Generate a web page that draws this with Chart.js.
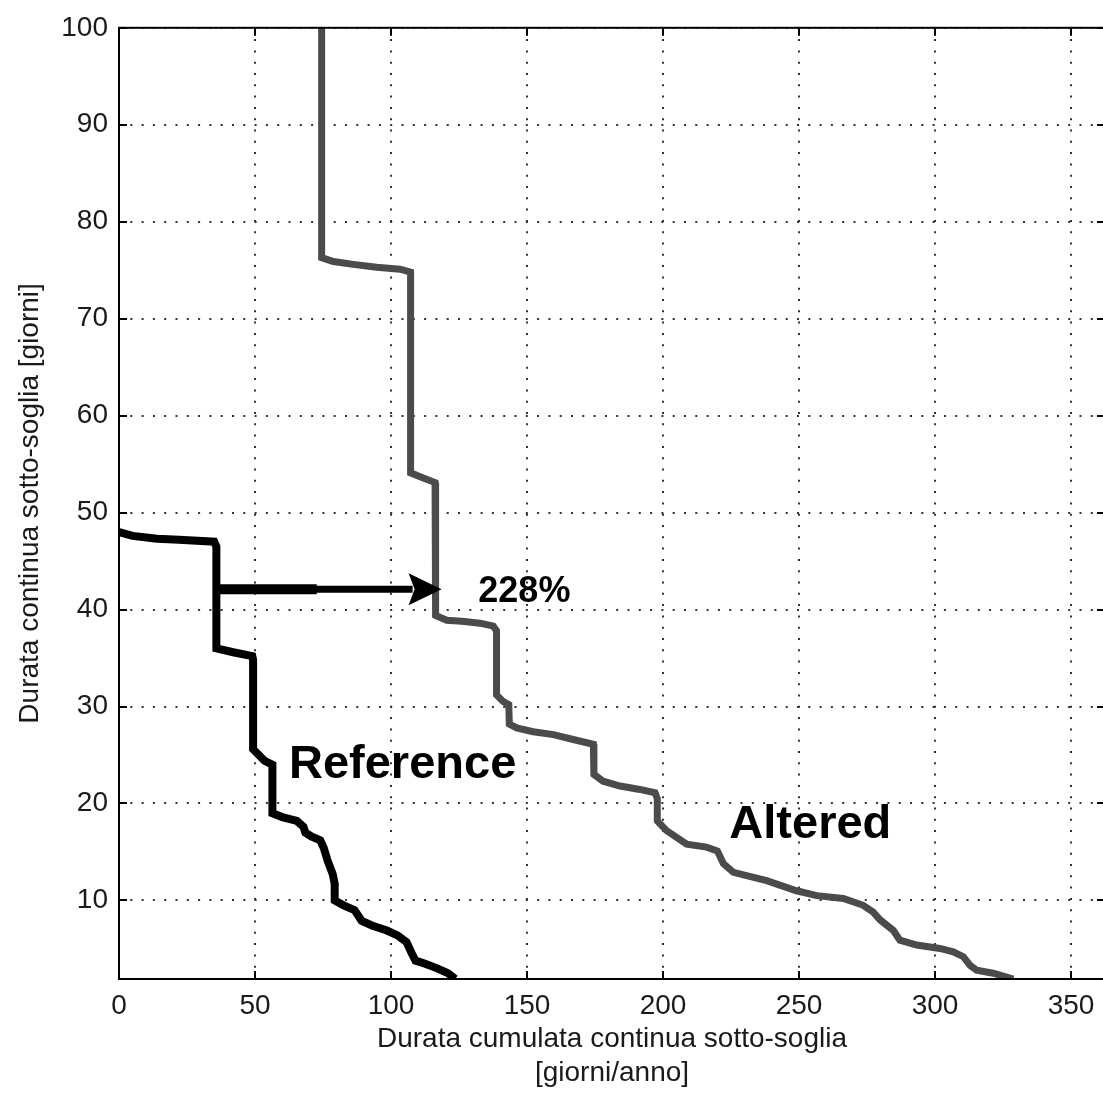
<!DOCTYPE html>
<html>
<head>
<meta charset="utf-8">
<script src="https://cdn.jsdelivr.net/npm/chart.js@4/dist/chart.umd.min.js"></script>
<style>
  html, body { margin: 0; padding: 0; background: #fff; overflow: hidden; }
  #wrap { width: 1110px; height: 1097px; }
</style>
</head>
<body>
<div id="wrap"><canvas id="c" width="1110" height="1097"></canvas></div>
<script>
// Cumulative duration [days/year] vs. continuous under-threshold duration [days]
const refDays = [0, 5, 14, 22, 35, 35.8, 35.8, 42, 49, 49.3, 49.3, 53.5, 56.4, 56.4, 60, 65.4, 67.8, 68.5, 70.7, 74, 75.3, 76.7, 78.6, 79.3, 79.3, 82.6, 86.6, 89.2, 93.2, 98.5, 102.4, 105.7, 107.7, 109, 112.3, 117, 120.9, 123.6];
const refDur  = [48, 47.6, 47.3, 47.2, 47.0, 46.5, 36.0, 35.6, 35.2, 34.8, 25.6, 24.4, 24.0, 19.0, 18.6, 18.2, 17.6, 17.0, 16.6, 16.2, 15.4, 14.1, 12.7, 11.7, 10.0, 9.5, 9.0, 7.9, 7.4, 6.9, 6.4, 5.7, 4.5, 3.8, 3.5, 3.0, 2.5, 1.9];

const altDays = [74.5, 74.5, 78.8, 86.1, 94.7, 103.3, 107.2, 107.2, 110.7, 116.2, 116.4, 116.4, 120.5, 126, 132.7, 137.6, 138.8, 138.8, 141.3, 143.3, 143.5, 146.2, 152.3, 159.7, 167, 174.4, 174.6, 174.6, 178, 184.2, 191.5, 197.1, 197.9, 197.9, 201.3, 208.7, 216, 220, 222.2, 225.9, 238.1, 249.1, 256.5, 266.3, 273.6, 277.3, 279.8, 284.7, 287.1, 293.3, 301.8, 306.7, 310.4, 312.9, 315.3, 321.4, 328.8];
const altDur  = [100, 76.3, 75.9, 75.6, 75.3, 75.1, 74.8, 54.1, 53.7, 53.1, 52.6, 39.4, 38.9, 38.8, 38.6, 38.3, 37.8, 31.2, 30.5, 30.2, 28.2, 27.8, 27.4, 27.1, 26.6, 26.1, 25.6, 23.0, 22.3, 21.8, 21.45, 21.1, 20.5, 18.2, 17.2, 15.8, 15.5, 15.1, 13.8, 12.9, 12.05, 11.0, 10.5, 10.2, 9.5, 8.8, 8.0, 6.9, 5.9, 5.4, 5.05, 4.7, 4.2, 3.3, 2.8, 2.5, 1.9];

const xTicks = [0, 50, 100, 150, 200, 250, 300, 350];
const yTicks = [10, 20, 30, 40, 50, 60, 70, 80, 90, 100];

// Increase arrow (reference -> altered) at the same duration
const arrowFrom = [35.8, 42.1];
const arrowTo   = [118.6, 42.1];
const arrowKnee = 72.7;   // where the shaft narrows

const notes = [
  { text: 'Reference', x: 62.5,  y: 22.6,  font: 'bold 47px "Liberation Sans", Arial, sans-serif' },
  { text: 'Altered',   x: 224.4, y: 16.4,  font: 'bold 47px "Liberation Sans", Arial, sans-serif' },
  { text: '228%',      x: 132.1, y: 40.75, font: 'bold 36px "Liberation Sans", Arial, sans-serif' }
];

const toPts = (xs, ys) => xs.map((v, i) => ({ x: v, y: ys[i] }));

const axisFont = { family: '"Liberation Sans", Arial, sans-serif', size: 28 };
const textColor = '#1a1a1a';

const annotate = {
  id: 'annotate',
  afterDatasetsDraw(chart) {
    const { ctx, scales: { x, y } } = chart;
    ctx.save();
    ctx.strokeStyle = '#000';
    ctx.fillStyle = '#000';
    ctx.lineCap = 'butt';
    const ay = y.getPixelForValue(arrowFrom[1]);
    const x0 = x.getPixelForValue(arrowFrom[0]);
    const xk = x.getPixelForValue(arrowKnee);
    const xt = x.getPixelForValue(arrowTo[0]);
    const headLen = 33, headHalf = 16;
    ctx.lineWidth = 10;
    ctx.beginPath(); ctx.moveTo(x0, ay); ctx.lineTo(xk, ay); ctx.stroke();
    ctx.lineWidth = 7;
    ctx.beginPath(); ctx.moveTo(xk - 1, ay); ctx.lineTo(xt - headLen + 4, ay); ctx.stroke();
    ctx.beginPath();
    ctx.moveTo(xt, ay);
    ctx.lineTo(xt - headLen, ay - headHalf);
    ctx.lineTo(xt - headLen + 6, ay);
    ctx.lineTo(xt - headLen, ay + headHalf);
    ctx.closePath();
    ctx.fill();

    ctx.textAlign = 'left';
    ctx.textBaseline = 'alphabetic';
    notes.forEach(n => {
      ctx.font = n.font;
      ctx.fillText(n.text, x.getPixelForValue(n.x), y.getPixelForValue(n.y));
    });
    ctx.restore();
  }
};

const frame = {
  id: 'frame',
  afterDraw(chart) {
    const { ctx, chartArea: a, scales: { x, y } } = chart;
    ctx.save();
    ctx.strokeStyle = '#000';
    ctx.lineWidth = 2;
    ctx.strokeRect(a.left, a.top, a.right - a.left, a.bottom - a.top);
    ctx.beginPath();
    const len = 8;
    xTicks.forEach(v => {
      const px = Math.round(x.getPixelForValue(v));
      ctx.moveTo(px, a.bottom); ctx.lineTo(px, a.bottom - len);
      ctx.moveTo(px, a.top); ctx.lineTo(px, a.top + len);
    });
    yTicks.forEach(v => {
      const py = Math.round(y.getPixelForValue(v));
      ctx.moveTo(a.left, py); ctx.lineTo(a.left + len, py);
      ctx.moveTo(a.right, py); ctx.lineTo(a.right - len, py);
    });
    ctx.stroke();
    ctx.restore();
  }
};

new Chart(document.getElementById('c'), {
  type: 'line',
  data: {
    datasets: [
      {
        label: 'Reference',
        data: toPts(refDays, refDur),
        borderColor: '#000',
        borderWidth: 8,
        borderJoinStyle: 'miter',
        pointRadius: 0,
        tension: 0,
        fill: false
      },
      {
        label: 'Altered',
        data: toPts(altDays, altDur),
        borderColor: '#4b4b4b',
        borderWidth: 7,
        borderJoinStyle: 'miter',
        pointRadius: 0,
        tension: 0,
        fill: false
      }
    ]
  },
  options: {
    responsive: false,
    animation: false,
    devicePixelRatio: 1,
    layout: { padding: { top: 22, right: 5, bottom: 0, left: 0 } },
    plugins: { legend: { display: false }, tooltip: { enabled: false } },
    scales: {
      x: {
        type: 'linear',
        min: 0,
        max: 362.5,
        afterBuildTicks: s => { s.ticks = xTicks.map(v => ({ value: v })); },
        afterFit: s => { s.height = 118; },
        ticks: { color: textColor, font: axisFont, padding: 10, maxRotation: 0, callback: v => String(v) },
        grid: { color: '#333', lineWidth: 2, drawTicks: false },
        border: { display: false, dash: [2, 9.3] },
        title: {
          display: true,
          text: ['Durata cumulata continua sotto-soglia', '[giorni/anno]'],
          color: textColor,
          font: axisFont,
          padding: { top: 0, bottom: 7 }
        }
      },
      y: {
        type: 'linear',
        min: 1.9,
        max: 100,
        afterBuildTicks: s => { s.ticks = yTicks.map(v => ({ value: v })); },
        afterFit: s => { s.width = 119; },
        ticks: { color: textColor, font: axisFont, padding: 11, callback: v => String(v) },
        grid: { color: '#333', lineWidth: 2, drawTicks: false },
        border: { display: false, dash: [2, 9.3] },
        title: {
          display: true,
          text: 'Durata continua sotto-soglia [giorni]',
          color: textColor,
          font: axisFont,
          padding: { top: 13, bottom: 0 }
        }
      }
    }
  },
  plugins: [annotate, frame]
});
</script>
</body>
</html>
